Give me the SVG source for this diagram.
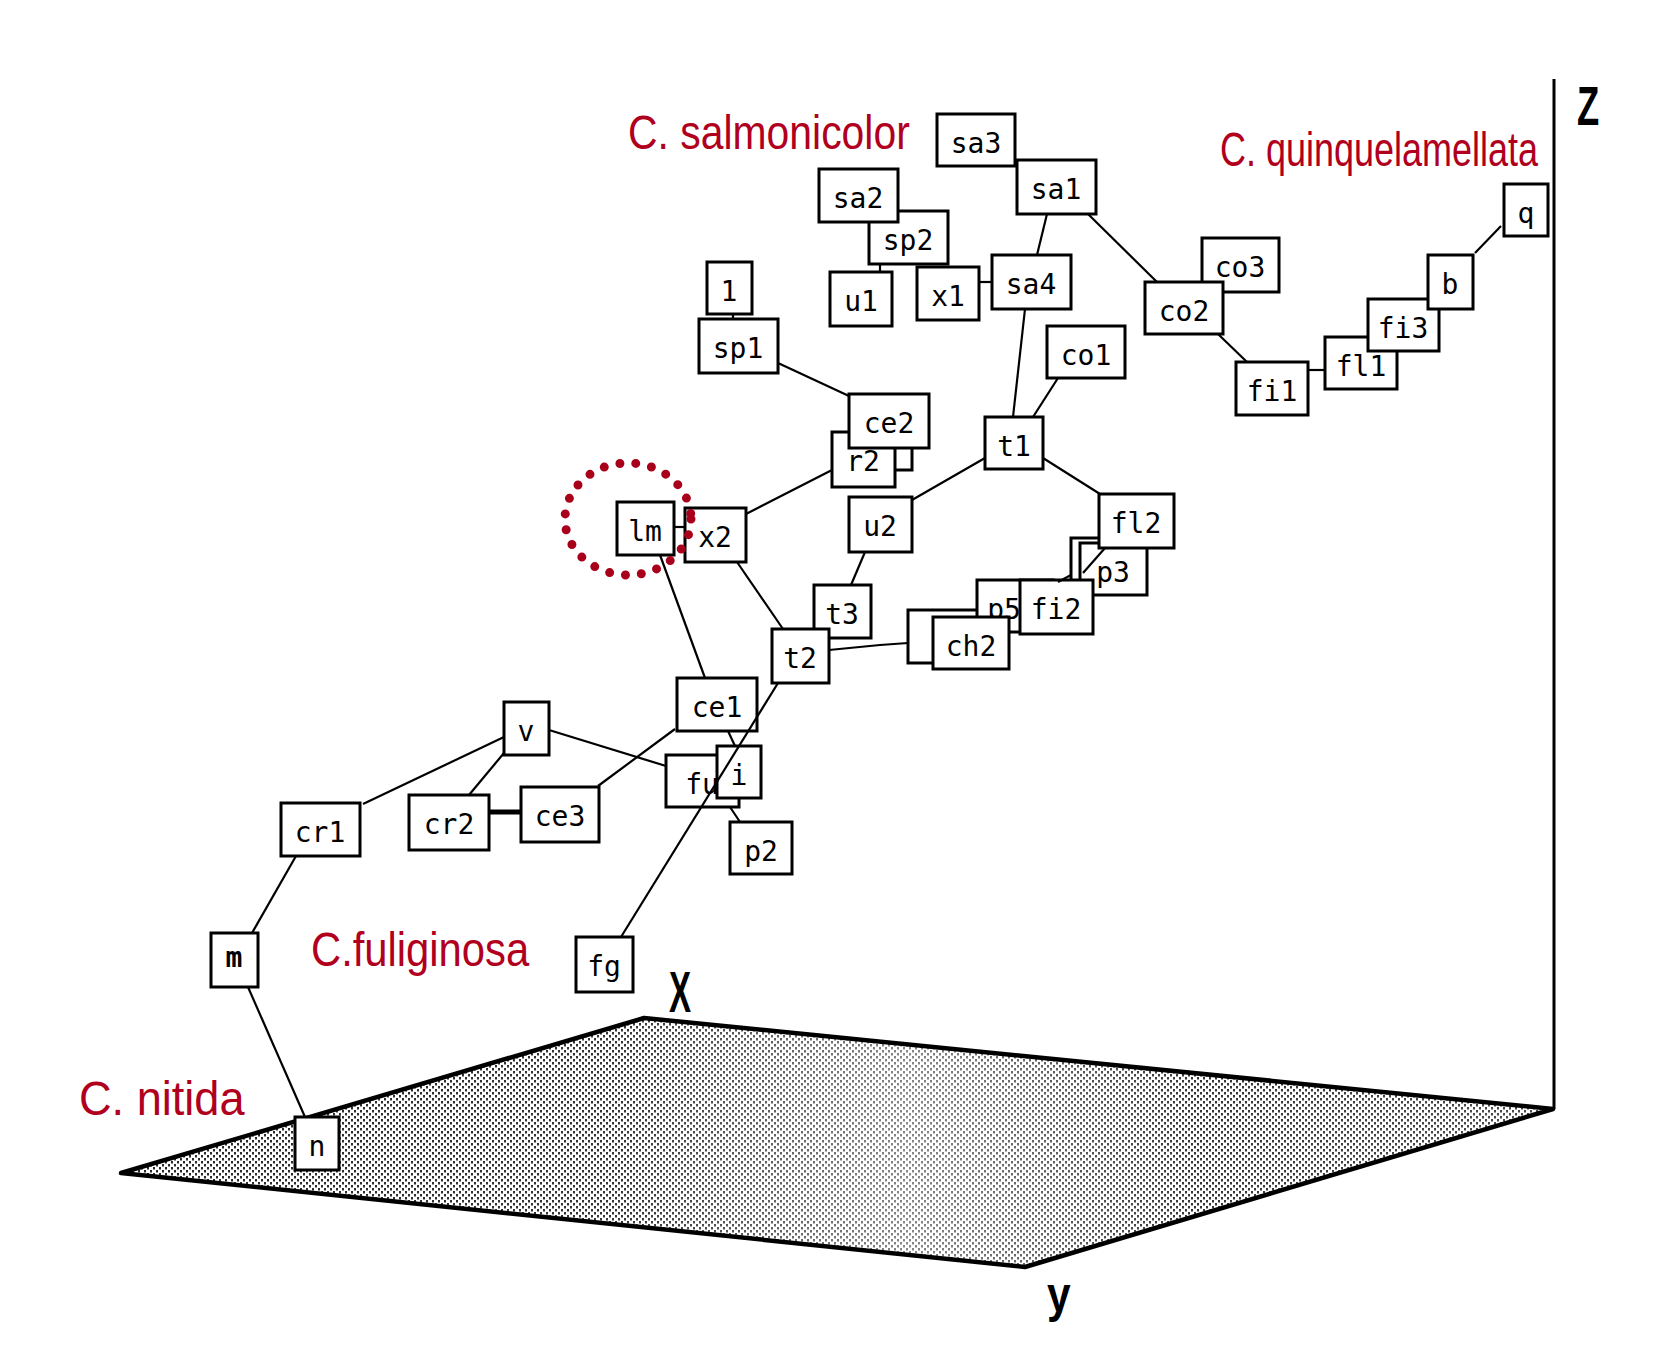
<svg xmlns="http://www.w3.org/2000/svg" width="1677" height="1365" viewBox="0 0 1677 1365">
<style>
.box{fill:#fff;stroke:#000;stroke-width:3}
.lbl{font-family:"DejaVu Sans Mono","Liberation Mono",monospace;font-size:28px;fill:#000;text-anchor:middle}
.sp{font-family:"Liberation Sans",Arial,sans-serif;font-size:48px;fill:#b0001e}
.ax{font-family:"Liberation Sans",Arial,sans-serif;font-weight:bold;fill:#000}
.con line,.con polyline{stroke:#000;stroke-width:2.2;fill:none}
</style>
<defs>
<pattern id="dots" width="6" height="6" patternUnits="userSpaceOnUse">
<rect width="6" height="6" fill="#fff"/>
<rect x="0" y="0" width="2" height="2.5" fill="#111"/>
<rect x="3" y="3" width="2" height="2.5" fill="#111"/>
</pattern>
<linearGradient id="light" x1="121" y1="0" x2="1553" y2="0" gradientUnits="userSpaceOnUse">
<stop offset="0" stop-color="#fff" stop-opacity="0.1"/>
<stop offset="0.35" stop-color="#fff" stop-opacity="0.15"/>
<stop offset="0.55" stop-color="#fff" stop-opacity="0.5"/>
<stop offset="0.75" stop-color="#fff" stop-opacity="0.15"/>
<stop offset="1" stop-color="#fff" stop-opacity="0.25"/>
</linearGradient>
</defs>
<rect width="1677" height="1365" fill="#fff"/>

<g id="plane">
<polygon points="121,1173 644,1018 1553,1109 1025,1267" fill="url(#dots)"/>
<polygon points="121,1173 644,1018 1553,1109 1025,1267" fill="url(#light)" stroke="#000" stroke-width="4.5" stroke-linejoin="round"/>
</g>
<g id="z-axis">
<line x1="1554" y1="79" x2="1554" y2="1109" stroke="#000" stroke-width="3"/>
</g>
<g id="axis-labels">
<text class="ax" transform="translate(1577,125) scale(0.65,1)" font-size="56">Z</text>
<text class="ax" transform="translate(669,1012) scale(0.57,1)" font-size="58">X</text>
<text class="ax" transform="translate(1047,1312) scale(0.85,1)" font-size="50">y</text>
</g>
<g id="species-labels">
<text class="sp" transform="translate(628,149) scale(0.852,1)">C. salmonicolor</text>
<text class="sp" transform="translate(1220,166) scale(0.75,1)">C. quinquelamellata</text>
<text class="sp" transform="translate(311,966) scale(0.87,1)">C.fuliginosa</text>
<text class="sp" transform="translate(79,1115) scale(0.94,1)">C. nitida</text>
</g>

<g id="nodes">
<g id="n-sa3"><rect class="box" x="937" y="114" width="78" height="52"/><text class="lbl" x="976" y="153">sa3</text></g>
<g id="n-sa1"><rect class="box" x="1017" y="160" width="79" height="54"/><text class="lbl" x="1056" y="199">sa1</text></g>
<g id="n-sp2"><rect class="box" x="869" y="211" width="79" height="53"/><text class="lbl" x="908" y="250">sp2</text></g>
<g id="n-sa2"><rect class="box" x="819" y="169" width="79" height="53"/><text class="lbl" x="858" y="208">sa2</text></g>
<g id="n-u1"><rect class="box" x="830" y="272" width="62" height="54"/><text class="lbl" x="861" y="311">u1</text></g>
<g id="n-x1"><rect class="box" x="917" y="267" width="62" height="53"/><text class="lbl" x="948" y="306">x1</text></g>
<g id="n-sa4"><rect class="box" x="992" y="255" width="79" height="54"/><text class="lbl" x="1031" y="294">sa4</text></g>
<g id="n-1"><rect class="box" x="707" y="262" width="45" height="52"/><text class="lbl" x="729" y="301">1</text></g>
<g id="n-sp1"><rect class="box" x="699" y="319" width="79" height="54"/><text class="lbl" x="738" y="358">sp1</text></g>
<g id="n-co1"><rect class="box" x="1047" y="326" width="78" height="52"/><text class="lbl" x="1086" y="365">co1</text></g>
<g id="n-co3"><rect class="box" x="1202" y="238" width="77" height="54"/><text class="lbl" x="1240" y="277">co3</text></g>
<g id="n-co2"><rect class="box" x="1145" y="282" width="78" height="52"/><text class="lbl" x="1184" y="321">co2</text></g>
<g id="n-fi1"><rect class="box" x="1236" y="362" width="72" height="53"/><text class="lbl" x="1272" y="401">fi1</text></g>
<g id="n-fl1"><rect class="box" x="1325" y="337" width="72" height="52"/><text class="lbl" x="1361" y="376">fl1</text></g>
<g id="n-fi3"><rect class="box" x="1368" y="299" width="71" height="52"/><text class="lbl" x="1403" y="338">fi3</text></g>
<g id="n-b"><rect class="box" x="1428" y="255" width="45" height="54"/><text class="lbl" x="1450" y="294">b</text></g>
<g id="n-q"><rect class="box" x="1504" y="184" width="44" height="52"/><text class="lbl" x="1526" y="223">q</text></g>
<g id="n-hidden1"><rect class="box" x="862" y="420" width="50" height="50"/></g>
<g id="n-r2"><rect class="box" x="832" y="432" width="63" height="55"/><text class="lbl" x="863" y="471">r2</text></g>
<g id="n-ce2"><rect class="box" x="849" y="394" width="80" height="54"/><text class="lbl" x="889" y="433">ce2</text></g>
<g id="n-t1"><rect class="box" x="985" y="417" width="58" height="52"/><text class="lbl" x="1014" y="456">t1</text></g>
<g id="n-lm"><rect class="box" x="617" y="502" width="57" height="53"/><text class="lbl" x="645" y="541">lm</text></g>
<g id="n-x2"><rect class="box" x="685" y="508" width="61" height="54"/><text class="lbl" x="715" y="547">x2</text></g>
<g id="n-u2"><rect class="box" x="849" y="497" width="63" height="55"/><text class="lbl" x="880" y="536">u2</text></g>
<g id="n-t3"><rect class="box" x="814" y="585" width="57" height="53"/><text class="lbl" x="842" y="624">t3</text></g>
<g id="n-t2"><rect class="box" x="772" y="629" width="57" height="54"/><text class="lbl" x="800" y="668">t2</text></g>
<g id="n-hidden2"><rect class="box" x="1071" y="538" width="70" height="52"/></g>
<g id="n-p3"><rect class="box" x="1080" y="543" width="67" height="52"/><text class="lbl" x="1113" y="582">p3</text></g>
<g id="n-fl2"><rect class="box" x="1099" y="494" width="75" height="54"/><text class="lbl" x="1136" y="533">fl2</text></g>
<g id="n-hidden3"><rect class="box" x="908" y="610" width="75" height="53"/></g>
<g id="n-p5"><rect class="box" x="977" y="580" width="76" height="52"/><text class="lbl" x="1004" y="619">p5</text></g>
<g id="n-fi2"><rect class="box" x="1020" y="580" width="73" height="54"/><text class="lbl" x="1056" y="619">fi2</text></g>
<g id="n-ch2"><rect class="box" x="933" y="617" width="76" height="52"/><text class="lbl" x="971" y="656">ch2</text></g>
<g id="n-ce1"><rect class="box" x="677" y="678" width="80" height="53"/><text class="lbl" x="717" y="717">ce1</text></g>
<g id="n-fu"><rect class="box" x="666" y="755" width="73" height="52"/><text class="lbl" x="702" y="794">fu</text></g>
<g id="n-i"><rect class="box" x="717" y="746" width="44" height="52"/><text class="lbl" x="739" y="785">i</text></g>
<g id="n-p2"><rect class="box" x="730" y="822" width="62" height="52"/><text class="lbl" x="761" y="861">p2</text></g>
<g id="n-v"><rect class="box" x="504" y="702" width="45" height="53"/><text class="lbl" x="526" y="741">v</text></g>
<g id="n-cr1"><rect class="box" x="281" y="803" width="79" height="53"/><text class="lbl" x="320" y="842">cr1</text></g>
<g id="n-cr2"><rect class="box" x="409" y="795" width="80" height="55"/><text class="lbl" x="449" y="834">cr2</text></g>
<g id="n-ce3"><rect class="box" x="521" y="787" width="78" height="55"/><text class="lbl" x="560" y="826">ce3</text></g>
<g id="n-m"><rect class="box" x="211" y="933" width="47" height="54"/><text class="lbl" x="234" y="967" font-size="13" font-weight="bold">m</text></g>
<g id="n-fg"><rect class="box" x="576" y="937" width="57" height="55"/><text class="lbl" x="604" y="976">fg</text></g>
<g id="n-n"><rect class="box" x="295" y="1117" width="44" height="53"/><text class="lbl" x="317" y="1156">n</text></g>
</g>

<g id="connectors" class="con">
<line x1="880" y1="264" x2="880" y2="272"/>
<line x1="979" y1="282" x2="992" y2="282"/>
<line x1="1047" y1="214" x2="1037" y2="255"/>
<line x1="1088" y1="214" x2="1157" y2="282"/>
<line x1="733" y1="314" x2="733" y2="319"/>
<line x1="778" y1="363" x2="849" y2="396"/>
<line x1="1025" y1="309" x2="1013" y2="417"/>
<line x1="1058" y1="378" x2="1033" y2="417"/>
<line x1="1218" y1="334" x2="1247" y2="362"/>
<line x1="1308" y1="370" x2="1325" y2="370"/>
<line x1="1475" y1="253" x2="1501" y2="226"/>
<line x1="746" y1="514" x2="832" y2="470"/>
<line x1="674" y1="527" x2="685" y2="527"/>
<line x1="912" y1="500" x2="985" y2="458"/>
<line x1="1043" y1="458" x2="1100" y2="494"/>
<line x1="865" y1="552" x2="851" y2="585"/>
<line x1="737" y1="562" x2="783" y2="629"/>
<line x1="660" y1="555" x2="705" y2="678"/>
<polyline points="829,650 880,645 908,643"/>
<line x1="1105" y1="548" x2="1083" y2="573"/>
<line x1="1058" y1="582" x2="1071" y2="575"/>
<line x1="778" y1="683" x2="621" y2="937"/>
<line x1="728" y1="731" x2="735" y2="746"/>
<line x1="730" y1="807" x2="740" y2="822"/>
<line x1="675" y1="729" x2="598" y2="786"/>
<line x1="549" y1="730" x2="666" y2="766"/>
<line x1="504" y1="737" x2="363" y2="804"/>
<line x1="504" y1="753" x2="469" y2="795"/>
<line x1="489" y1="812" x2="521" y2="812" style="stroke-width:5"/>
<line x1="296" y1="856" x2="252" y2="933"/>
<line x1="248" y1="987" x2="305" y2="1117"/>
</g>

<g id="highlight">
<ellipse cx="628" cy="519" rx="63" ry="56" fill="none" stroke="#a8001a" stroke-width="9" stroke-linecap="round" stroke-dasharray="0 16"/>
</g>
</svg>
